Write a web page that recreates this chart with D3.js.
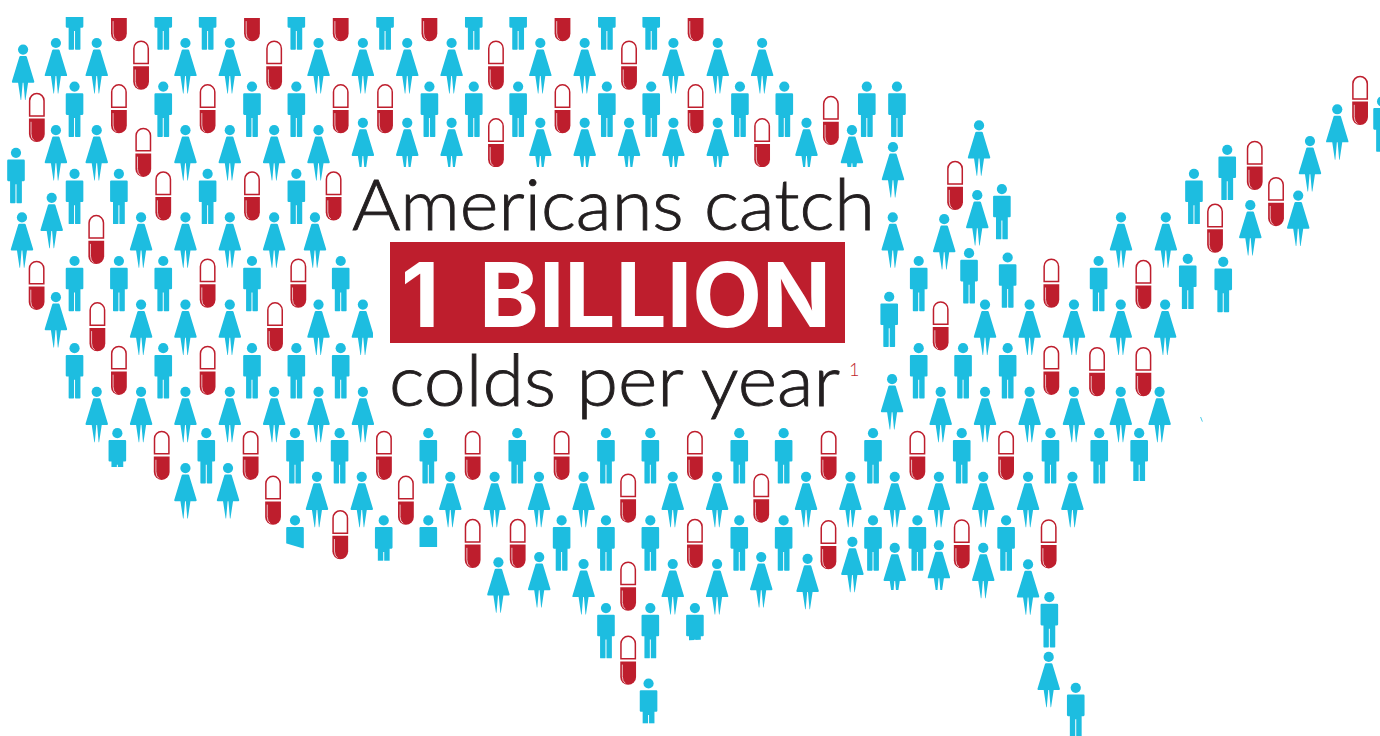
<!DOCTYPE html>
<html lang="en">
<head>
<meta charset="UTF-8">
<title>Americans catch 1 billion colds per year</title>
<script src="https://d3js.org/d3.v7.min.js"></script>
<style>
  html, body { margin: 0; background: #fff; }
  svg { display: block; }
  text { font-family: Lato, "Open Sans", sans-serif; }
</style>
</head>
<body>
<svg id="chart" width="1380" height="736"></svg>
<script>
// icon positions as [column, row] on the map grid
const men = [
  [3,-1],[7,-1],[9,-1],[13,-1],[17,-1],[21,-1],[23,-1],[27,-1],[29,-1],
  [3,1],[7,1],[11,1],[13,1],[19,1],[21,1],[23,1],[27,1],[29,1],[33,1],[35,1],[38.72,1],[40.08,1],
  [0.36,2.52],[3,3],[5,3],[9,3],[13,3],
  [3,5],[5,5],[7,5],[11,5],[15,5],
  [3,7],[7,7],[11,7],[13,7],[15,7],
  [41.06,5],[43.33,4.82],[45.07,4.92],[49.17,5],[53.19,4.95],[54.79,5.02],
  [39.73,5.82],[41.06,7],[43.06,7],[45.07,7],
  [44.81,3.35],[53.47,3],[54.97,2.45],[61.95,1.34],
  [4.93,8.95],[8.94,8.95],[12.94,8.95],[14.95,8.95],[18.95,8.95],[22.96,8.95],[26.96,8.95],
  [28.96,8.95],[32.97,8.95],[34.97,8.95],[39,8.95],[43,8.95],[47,8.95],[49.2,8.95],[51,8.95],
  [12.94,10.95],[16.94,10.95],[18.95,10.95],[24.96,10.95],[26.96,10.95],[28.96,10.95],
  [32.97,10.95],[34.97,10.95],[39,10.95],[41,10.95],[45,10.95],
  [26.96,12.96],[28.96,12.96],[30.97,12.96],[28.88,14.69],[46.95,12.71],[48.14,14.79]
];

const women = [
  [0.68,0.15],[2.16,0],[4,0],[8,0],[10,0],[14,0],[16,0],[18,0],[20,0],[24,0],[26,0],[30,0],[32,0],[34,0],
  [2.16,2],[4,2],[8,2],[10,2],[12,2],[14,2],
  [16,1.83],[18,1.83],[20,1.83],[24,1.83],[26,1.83],[28,1.83],[30,1.83],[32,1.83],[36,1.83],
  [38.05,2],[39.9,2.39],[1.97,3.55],
  [0.63,4],[6,4],[8,4],[10,4],[12,4],[13.84,4],[39.89,4],
  [2.16,5.83],[6,6],[8,6],[10,6],[14,6],[16,6],
  [4,8],[6,8],[8,8],[10,8],[12,8],[14,8],[16,8],
  [43.78,1.89],[43.7,3.49],[42.21,4.04],[50.18,4],[52.2,4],
  [56.01,3.72],[58.17,3.5],[58.7,2.25],[59.93,1.52],
  [44.05,6],[46.06,6],[48.06,6],[50.17,6],[52.17,6],
  [39.86,7.71],[42.05,8],[44.05,8],[46.06,8],[48.06,8],[50.17,8],[51.92,8],
  [8,9.75],[9.92,9.75],[13.93,9.95],[15.95,9.95],[19.94,9.95],[21.94,9.95],[23.94,9.95],[25.95,9.95],
  [29.97,9.95],[31.97,9.95],[35.98,9.95],[37.98,9.95],[39.98,9.95],[41.97,9.95],[43.97,9.95],[45.99,9.95],[47.99,9.95],
  [22.11,11.91],[23.95,11.79],[25.95,11.95],[29.97,11.95],[31.97,11.95],[33.96,11.79],[36.05,11.83],
  [38.07,11.44],[39.98,11.58],[41.97,11.52],[43.97,11.58],[45.99,11.96],[46.92,14.08]
];

const pills = [
  [5,-1.11],[11,-1.11],[15,-1.11],[19,-1.11],[25,-1.11],[31,-1.11],
  [6,0],[12,0],[22,0],[28,0],
  [1.3,1.2],[5,1],[9,1],[15,1],[17,1],[25,1],[31,1],[37.1,1.27],
  [6.1,2],[22,1.78],[34,1.78],
  [7,3],[11,3],[14.68,3],[3.98,4],
  [1.29,5.05],[9,5],[13.09,5],[47.04,5],[51.19,5.03],
  [4.03,6],[12.04,6],[42.05,5.98],
  [5,7],[9,7],[47.04,7],[49.1,7.03],[51.19,7.03],
  [42.7,2.76],[54.42,3.74],[56.21,2.3],[57.17,3.13],[60.96,0.81],
  [6.93,8.95],[10.94,8.95],[16.95,8.95],[20.95,8.95],[24.96,8.95],[30.97,8.95],[37,8.95],[41,8.95],[45,8.95],
  [11.95,9.98],[17.94,9.98],[27.96,9.93],[33.96,9.93],
  [14.98,10.77],[20.95,10.97],[22.98,10.97],[30.97,10.97],[36.99,11],[43,10.98],[46.92,10.98],
  [27.96,11.95],[27.96,13.65]
];

const headline = "Americans catch";
const bigNumber = ["1", "BILLION"];
const tagline = "colds per year";
const footnoteMark = "1";

const cyan = "#1dbde0", red = "#be1e2d", ink = "#231f20";

const svg = d3.select("#chart");

// one column = half an icon step, one row = one line of icons
const x = d3.scaleLinear().domain([0, 60]).range([8, 1338.8]);
const y = d3.scaleLinear().domain([0, 14]).range([43, 653.4]);

// icon shapes, measured from the head centre
const manBody = "M-7.7,6.7H7.7Q8.8,6.7 8.8,7.8V27.2Q8.8,28.3 7.7,28.3H5.9V49.6Q5.9,50.3 5.2,50.3H1.2Q0.5,50.3 0.5,49.6V31.5H-0.5V49.6Q-0.5,50.3 -1.2,50.3H-5.2Q-5.9,50.3 -5.9,49.6V28.3H-7.7Q-8.8,28.3 -8.8,27.2V7.8Q-8.8,6.7 -7.7,6.7Z";
const womanBody = "M-2.6,6.4H2.6Q3.4,6.4 3.7,7.2L11.2,31.9Q11.4,33.1 10.2,33.1H5L2.4,50.4H1.9L0.4,33.1H-0.4L-1.9,50.4H-2.4L-5,33.1H-10.2Q-11.4,33.1 -11.2,31.9L-3.7,7.2Q-3.4,6.4 -2.6,6.4Z";
const pillTop = "M-7.2,20.6V5.4A7.2,7.2 0 0 1 7.2,5.4V20.6Z";
const pillBottom = "M-7.9,23.3H7.9V38.8A7.9,7.9 0 0 1 -7.9,38.8Z";
const pillShine = "M-5.8,26.5V38.5Q-5.8,43.4 -2.8,45.2";

const place = d => `translate(${x(d[0])},${y(d[1])})`;

const head = sel => sel.append("circle").attr("r", 5.1).attr("fill", cyan);

const manG = svg.append("g").selectAll("g").data(men).join("g").attr("transform", place);
manG.call(head);
manG.append("path").attr("d", manBody).attr("fill", cyan);

const womanG = svg.append("g").selectAll("g").data(women).join("g").attr("transform", place);
womanG.call(head);
womanG.append("path").attr("d", womanBody).attr("fill", cyan);

// pills hang from the same anchor, the path already starts just above the head centre
const pillG = svg.append("g").selectAll("g").data(pills).join("g").attr("transform", place);
pillG.append("path").attr("d", pillTop).attr("fill", "#fff").attr("stroke", red).attr("stroke-width", 1.5);
pillG.append("path").attr("d", pillBottom).attr("fill", red);
pillG.append("path").attr("d", pillShine).attr("fill", "none").attr("stroke", "#fff").attr("stroke-width", 0.7);

// white cut-outs: top edge, text panel, and icons chopped at the map border
const cutouts = [
  "M0,0H1380V17H0Z",
  "M350,167H880V250H350Z",
  "M373,250H880V420H373Z",
  "M105,467H130V490H105Z",
  "M284,542.7L306,549.3V572H284Z",
  "M372,560.7H396V575H372Z",
  "M417,547H440V575H417Z",
  "M684,640.5L706,639.5V662H684Z",
  "M637,723.3H661V736H637Z",
  "M1128,481H1150V490H1128Z",
  "M884,590H905V600H884Z",
  "M929,590H950V600H929Z"
];
svg.append("g").selectAll("path").data(cutouts).join("path").attr("d", d => d).attr("fill", "#fff");

// stray speck left on the east coast
svg.append("path").attr("d", "M1200.6,417L1202.4,421.6").attr("stroke", cyan).attr("stroke-width", 0.8);

svg.append("text").text(headline)
  .attr("x", 352).attr("y", 230)
  .attr("font-size", 70).attr("font-weight", 300).attr("fill", ink)
  .attr("stroke", ink).attr("stroke-width", 0.9)
  .attr("textLength", 523).attr("lengthAdjust", "spacingAndGlyphs");

svg.append("rect").attr("x", 390).attr("y", 242).attr("width", 455).attr("height", 101).attr("fill", red);

// the gap between "1" and "BILLION" is wider than a normal word space
svg.append("text").text(bigNumber[0])
  .attr("x", 401).attr("y", 327)
  .style("font-family", "Inter, Lato, sans-serif")
  .attr("font-size", 89).attr("font-weight", 700).attr("fill", "#fff");

svg.append("text").text(bigNumber[1])
  .attr("x", 479).attr("y", 327)
  .style("font-family", "Inter, Lato, sans-serif")
  .attr("font-size", 89).attr("font-weight", 700).attr("fill", "#fff")
  .attr("textLength", 352).attr("lengthAdjust", "spacingAndGlyphs");

svg.append("text").text(tagline)
  .attr("x", 389).attr("y", 406)
  .attr("font-size", 70).attr("font-weight", 300).attr("fill", ink)
  .attr("stroke", ink).attr("stroke-width", 0.9)
  .attr("textLength", 451).attr("lengthAdjust", "spacingAndGlyphs");

svg.append("text").text(footnoteMark)
  .attr("x", 849).attr("y", 376)
  .attr("font-size", 18).attr("font-weight", 300).attr("fill", red);
</script>
</body>
</html>
